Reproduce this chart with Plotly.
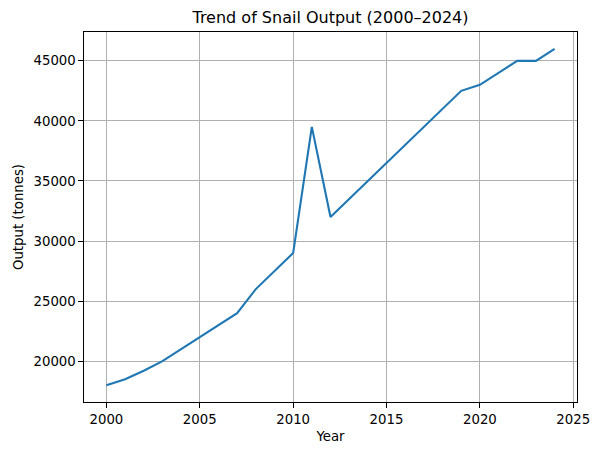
import plotly.graph_objects as go

years = list(range(2000, 2025))
output = [18000, 18500, 19200, 20000, 21000, 22000, 23000, 24000, 26000, 27500,
          29000, 39500, 32000, 33500, 35000, 36500, 38000, 39500, 41000, 42500,
          43000, 44000, 45000, 45000, 46000]
x_ticks = [2000, 2005, 2010, 2015, 2020, 2025]
y_ticks = [20000, 25000, 30000, 35000, 40000, 45000]

FONT = "DejaVu Sans"
fig = go.Figure(go.Scatter(x=years, y=output, mode="lines",
                           line=dict(color="#1f77b4", width=2.1)))

axis_common = dict(showline=True, linecolor="black", linewidth=1.1, mirror=True,
                   showgrid=True, gridcolor="#b0b0b0", gridwidth=1.1,
                   ticks="outside", ticklen=4.5, tickwidth=1.1, tickcolor="black",
                   zeroline=False, tickfont=dict(family=FONT, size=13.3, color="black"))

xmin, xmax = min(years), max(years)
ymin, ymax = min(output), max(output)
xpad = (xmax - xmin) * 0.05
ypad = (ymax - ymin) * 0.05

fig.update_layout(
    width=602, height=455,
    margin=dict(l=83.5, r=23, t=32, b=53),
    paper_bgcolor="white", plot_bgcolor="white",
    showlegend=False,
    title=dict(text="Trend of Snail Output (2000–2024)", x=0.5, xanchor="center",
               y=1 - 17.5 / 455, yanchor="middle",
               xref="paper",
               font=dict(family=FONT, size=16, color="black")),
    xaxis=dict(axis_common, range=[xmin - xpad, xmax + xpad], tickvals=x_ticks,
               title=dict(text="Year", font=dict(family=FONT, size=13.3, color="black"), standoff=6)),
    yaxis=dict(axis_common, range=[ymin - ypad, ymax + ypad], tickvals=y_ticks,
               tickformat="d",
               title=dict(text="Output (tonnes)", font=dict(family=FONT, size=13.3, color="black"), standoff=6)),
)

fig.write_html("out.html")
